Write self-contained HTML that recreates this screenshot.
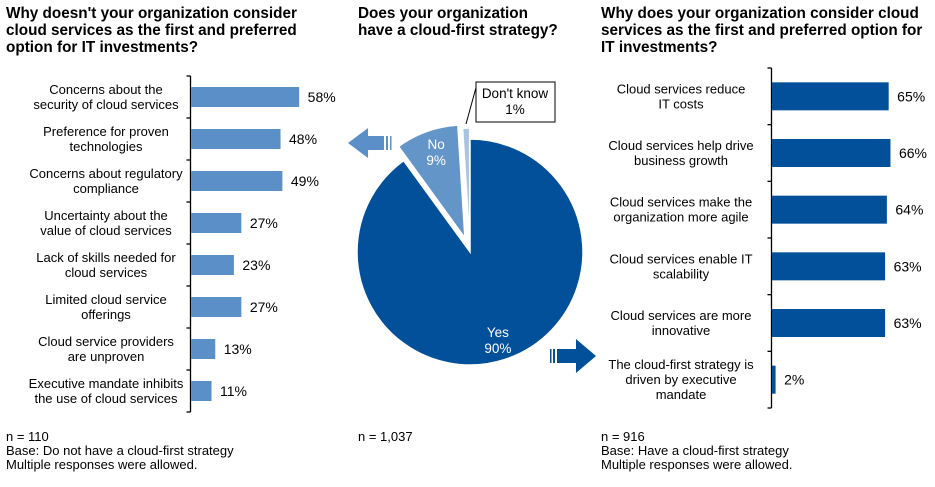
<!DOCTYPE html>
<html><head><meta charset="utf-8"><style>
body{margin:0;background:#fff;font-family:"Liberation Sans",Arial,sans-serif;}
svg text{font-family:"Liberation Sans",Arial,sans-serif;}
</style></head><body>
<svg id="c" width="935" height="482" viewBox="0 0 935 482" xmlns="http://www.w3.org/2000/svg">
<g font-weight="bold" font-size="15.3" fill="#000">
<text x="6" y="18">Why doesn't your organization consider</text>
<text x="6" y="35">cloud services as the first and preferred</text>
<text x="6" y="52">option for IT investments?</text>
<text x="358" y="18">Does your organization</text>
<text x="358" y="35">have a cloud-first strategy?</text>
<text x="601" y="18">Why does your organization consider cloud</text>
<text x="601" y="35">services as the first and preferred option for</text>
<text x="601" y="52">IT investments?</text>
</g>
<g font-size="13" fill="#000">
<text x="6" y="441">n = 110</text>
<text x="6" y="455">Base: Do not have a cloud-first strategy</text>
<text x="6" y="469">Multiple responses were allowed.</text>
<text x="358" y="441">n = 1,037</text>
<text x="601" y="441">n = 916</text>
<text x="601" y="455">Base: Have a cloud-first strategy</text>
<text x="601" y="469">Multiple responses were allowed.</text>
</g>
<g id="left"></g><g id="right"></g><g id="pie"></g>
<g fill="#5b8fc7">
<polygon points="348,143 368,128 368,136 384,136 384,150 368,150 368,158"/>
<rect x="386" y="136" width="2" height="14"/><rect x="390" y="136" width="1.5" height="14"/>
</g>
<g fill="#02509a">
<rect x="550" y="349" width="1.5" height="14"/><rect x="553" y="349" width="2" height="14"/>
<polygon points="557,349 576,349 576,339 596,356 576,373 576,363 557,363"/>
</g>
<g>
<line x1="466" y1="124" x2="477" y2="84" stroke="#000" stroke-width="1"/>
<rect x="476" y="82" width="79" height="40" fill="#fff" stroke="#000" stroke-width="1"/>
<text x="515" y="98" font-size="13.5" text-anchor="middle">Don't know</text>
<text x="515" y="114" font-size="13.5" text-anchor="middle">1%</text>
</g>
</svg>
<script>
const leftCats=[["Concerns about the","security of cloud services"],["Preference for proven","technologies"],["Concerns about regulatory","compliance"],["Uncertainty about the","value of cloud services"],["Lack of skills needed for","cloud services"],["Limited cloud service","offerings"],["Cloud service providers","are unproven"],["Executive mandate inhibits","the use of cloud services"]];
const leftVals=[58,48,49,27,23,27,13,11];
const rightCats=[["Cloud services reduce","IT costs"],["Cloud services help drive","business growth"],["Cloud services make the","organization more agile"],["Cloud services enable IT","scalability"],["Cloud services are more","innovative"],["The cloud-first strategy is","driven by executive","mandate"]];
const rightVals=[65,66,64,63,63,2];
const pieLabels=["Yes","No","Don't know"];
const pieVals=[90,9,1];
const NS="http://www.w3.org/2000/svg";
function mk(t,a,p){const e=document.createElementNS(NS,t);for(const k in a)e.setAttribute(k,a[k]);p.appendChild(e);return e;}
function bars(g,cats,vals,ax,top,bot,scale,barH,color,labelCx,name){
 const band=(bot-top)/cats.length;
 mk('line',{x1:ax,y1:top,x2:ax,y2:bot,stroke:'#000','stroke-width':1.3},g);
 for(let i=0;i<=cats.length;i++){mk('line',{x1:ax-4,y1:top+i*band,x2:ax,y2:top+i*band,stroke:'#000','stroke-width':1.3},g);}
 cats.forEach((c,i)=>{
  const cy=top+band*(i+0.5);
  const r=mk('rect',{x:ax+0.5,y:cy-barH/2,width:vals[i]*scale,height:barH,fill:color},g);
  
  
  const v=mk('text',{x:ax+vals[i]*scale+9,y:cy+5,'font-size':14},g);v.textContent=vals[i]+'%';
  
  
  const lh=15,y0=cy-(c.length-1)*lh/2+4.5;
  c.forEach((ln,j)=>{const t=mk('text',{x:labelCx,y:y0+j*lh,'font-size':13,'text-anchor':'middle'},g);t.textContent=ln;
   
   });
 });
}
bars(document.getElementById('left'),leftCats,leftVals,190.5,76,412,1.865,20,'#5b8fc7',106,'left');
bars(document.getElementById('right'),rightCats,rightVals,771.5,68,408,1.795,28,'#02509a',681,'right');
const pg=document.getElementById('pie');
const cx=470,cy=252,R=113,cols=['#02509a','#6495c8','#a9c4e0'],expl=[0,15,11];
const lblOff=[0,0.03,0],lblR=[0.8,0.82,0];
const tot=pieVals.reduce((a,b)=>a+b,0);
let a0=0;
pieVals.forEach((v,i)=>{
 const a1=a0+v/tot*2*Math.PI,mid=(a0+a1)/2;
 const ox=cx+expl[i]*Math.sin(mid),oy=cy-expl[i]*Math.cos(mid);
 const p=(a)=>[ox+R*Math.sin(a),oy-R*Math.cos(a)];
 const s=p(a0),e=p(a1),large=(a1-a0)>Math.PI?1:0;
 const path=mk('path',{d:`M${ox},${oy}L${s[0]},${s[1]}A${R},${R} 0 ${large} 1 ${e[0]},${e[1]}Z`,fill:cols[i],stroke:'#fff','stroke-width':1.5},pg);
 
 
 if(i<2){
  const la=mid+lblOff[i],lr=R*lblR[i];
  const lx=ox+lr*Math.sin(la),ly=oy-lr*Math.cos(la);
  const t1=mk('text',{x:lx,y:ly-1,'font-size':13.5,'text-anchor':'middle',fill:'#fff'},pg);t1.textContent=pieLabels[i];
  
  
  const t2=mk('text',{x:lx,y:ly+15,'font-size':13.5,'text-anchor':'middle',fill:'#fff'},pg);t2.textContent=v+'%';
  
  
 }
 a0=a1;
});
</script>
</body></html>
